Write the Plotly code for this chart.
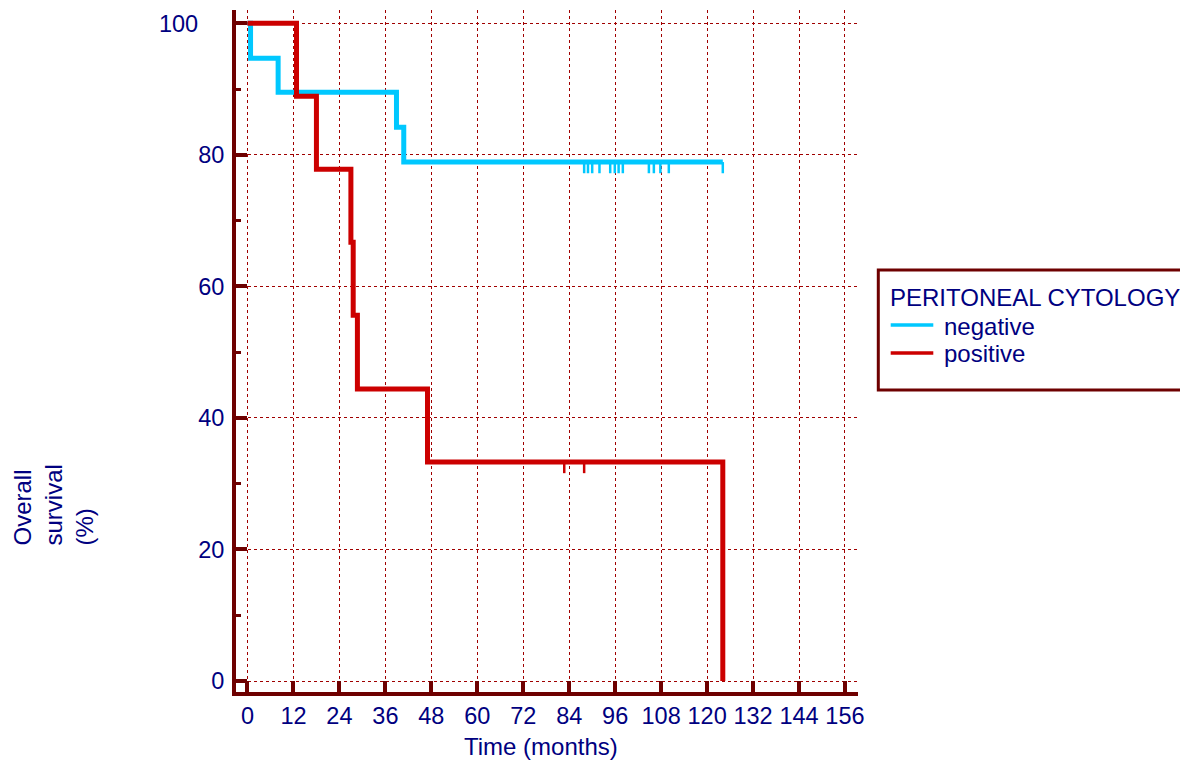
import plotly.graph_objects as go

# ---------------- data ----------------
# Kaplan-Meier curves: time in months, survival in %
neg_time = [0, 0.8, 8.0, 38.9, 40.8, 124.1]
neg_surv = [100, 94.7, 89.5, 84.2, 78.9, 78.9]
neg_censor_time = [87.9, 88.9, 90.0, 91.9, 94.7, 95.9, 96.9, 98.0,
                   104.8, 106.1, 107.8, 110.0, 124.1]
neg_censor_surv = [78.9, 78.9, 78.9, 78.9, 78.9, 78.9, 78.9, 78.9,
                   78.9, 78.9, 78.9, 78.9, 78.9]

pos_time = [0, 12.8, 18.0, 27.0, 27.6, 28.7, 47.0, 124.1]
pos_surv = [100, 88.9, 77.8, 66.7, 55.6, 44.4, 33.3, 0]
pos_censor_time = [82.7, 87.9]
pos_censor_surv = [33.3, 33.3]

series_names = ["negative", "positive"]
legend_title = "PERITONEAL CYTOLOGY"

x_tickvals = [0, 12, 24, 36, 48, 60, 72, 84, 96, 108, 120, 132, 144, 156]
x_ticktext = ["0", "12", "24", "36", "48", "60", "72", "84", "96", "108",
              "120", "132", "144", "156"]
y_tickvals = [0, 20, 40, 60, 80, 100]
y_ticktext = ["0", "20", "40", "60", "80", "100"]

x_title = "Time (months)"
y_title = "Overall<br>survival<br>(%)"

# ---------------- styles ----------------
CYAN = "#00C8FF"
RED = "#CC0000"
AX = "#6E0000"
GRID = "#A00000"
NAVY = "#000080"
FONT = "Liberation Sans, Arial, sans-serif"
FS = 24
TFS = 23.5
CENSOR_LEN = 1.7  # in survival % units (tick drawn downward)

W, H = 1180, 761
L, T = 236, 10
R = W - 858
B = H - 692
PW, PH = W - L - R, H - T - B


def px(xpage):
    return (xpage - L) / PW


def py(ypage):
    return (H - B - ypage) / PH


fig = go.Figure()

fig.add_trace(go.Scatter(x=neg_time, y=neg_surv, mode="lines",
                         line=dict(color=CYAN, width=5, shape="hv"),
                         name=series_names[0], showlegend=False))
fig.add_trace(go.Scatter(x=neg_censor_time, y=neg_censor_surv, mode="markers",
                         marker=dict(size=1, color="rgba(0,0,0,0)"),
                         error_y=dict(type="data", symmetric=False,
                                      array=[0] * len(neg_censor_time),
                                      arrayminus=[CENSOR_LEN] * len(neg_censor_time),
                                      thickness=2.5, width=0, color=CYAN),
                         showlegend=False, hoverinfo="skip"))
fig.add_trace(go.Scatter(x=pos_time, y=pos_surv, mode="lines",
                         line=dict(color=RED, width=5, shape="hv"),
                         name=series_names[1], showlegend=False))
fig.add_trace(go.Scatter(x=pos_censor_time, y=pos_censor_surv, mode="markers",
                         marker=dict(size=1, color="rgba(0,0,0,0)"),
                         error_y=dict(type="data", symmetric=False,
                                      array=[0] * len(pos_censor_time),
                                      arrayminus=[CENSOR_LEN] * len(pos_censor_time),
                                      thickness=2.5, width=0, color=RED),
                         showlegend=False, hoverinfo="skip"))

axis_common = dict(
    showline=True, linewidth=4, linecolor=AX,
    ticks="inside", ticklen=11, tickwidth=4, tickcolor=AX,
    showgrid=True, gridcolor=GRID, gridwidth=1, griddash="dot",
    zeroline=False, tickfont=dict(family=FONT, size=TFS, color=NAVY),
)

fig.update_xaxes(range=[-3.0, 159.4], tickmode="array", tickvals=x_tickvals,
                 ticktext=x_ticktext, ticklabelstandoff=0, **axis_common)
fig.update_yaxes(range=[-1.67, 102.02], tickmode="array", tickvals=y_tickvals,
                 ticktext=[t + ("\u00a0" * 4 if t == "100" else "") for t in y_ticktext],
                 ticklabelstandoff=3,
                 minor=dict(dtick=10, ticks="inside", ticklen=5, tickwidth=3,
                            tickcolor=AX, showgrid=False),
                 **axis_common)

shapes = [
    dict(type="rect", xref="paper", yref="paper",
         x0=px(878.3), x1=px(1250), y0=py(390), y1=py(270),
         line=dict(color=AX, width=3), fillcolor="rgba(0,0,0,0)"),
    dict(type="line", xref="paper", yref="paper",
         x0=px(890.7), x1=px(933.3), y0=py(325), y1=py(325),
         line=dict(color=CYAN, width=3.5)),
    dict(type="line", xref="paper", yref="paper",
         x0=px(890.7), x1=px(933.3), y0=py(353), y1=py(353),
         line=dict(color=RED, width=3.5)),
]

annotations = [
    dict(text=legend_title, xref="paper", yref="paper", x=px(887.7), y=py(298),
         xanchor="left", yanchor="middle", showarrow=False,
         font=dict(family=FONT, size=FS, color=NAVY)),
    dict(text=series_names[0], xref="paper", yref="paper", x=px(942), y=py(326),
         xanchor="left", yanchor="middle", showarrow=False,
         font=dict(family=FONT, size=FS, color=NAVY)),
    dict(text=series_names[1], xref="paper", yref="paper", x=px(942), y=py(353),
         xanchor="left", yanchor="middle", showarrow=False,
         font=dict(family=FONT, size=FS, color=NAVY)),
    dict(text=x_title, xref="paper", yref="paper", x=px(540.8), y=py(746),
         xanchor="center", yanchor="middle", showarrow=False,
         font=dict(family=FONT, size=FS, color=NAVY)),
    dict(text=y_title, xref="paper", yref="paper", x=px(52.5), y=py(505),
         xanchor="center", yanchor="middle", showarrow=False, textangle=-90,
         align="left", font=dict(family=FONT, size=FS, color=NAVY)),
]

fig.update_layout(
    width=W, height=H, autosize=False,
    margin=dict(l=L, r=R, t=T, b=B),
    paper_bgcolor="white", plot_bgcolor="white",
    showlegend=False, shapes=shapes, annotations=annotations,
    font=dict(family=FONT, size=FS, color=NAVY),
)

fig.write_html(
    "out.html",
    config={"displayModeBar": False},
    post_script="document.body.style.margin='0';document.body.style.overflow='hidden';",
)
